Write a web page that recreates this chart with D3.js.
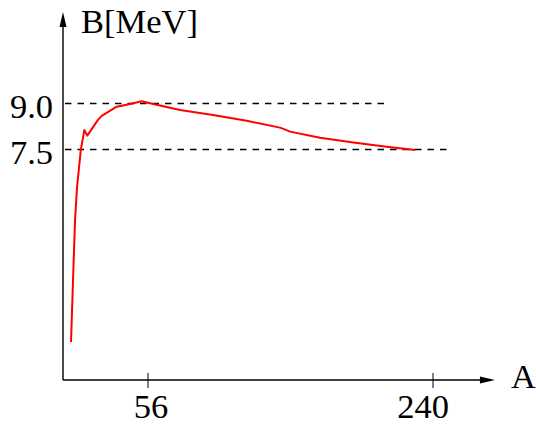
<!DOCTYPE html>
<html>
<head>
<meta charset="utf-8">
<script src="https://cdn.jsdelivr.net/npm/d3@7"></script>
<style>
  html, body { margin: 0; padding: 0; background: #fff; }
  svg { display: block; }
  text { font-family: "Liberation Serif", "Times New Roman", serif; font-size: 34.5px; fill: #000; }
</style>
</head>
<body>
<svg id="chart" width="536" height="426"></svg>
<script>
// Data (mass number A, binding energy per nucleon B in MeV)
const massNumber = [6.3, 7.6, 8.9, 10.2, 12.6, 14.9, 16.8, 23.7, 26.1, 35.8, 44.4, 51.9, 59.4, 76.7, 98, 119.7, 141.2, 143.4, 147.7, 167.1, 188.6, 210.1, 228.4];
const bindingEnergy = [1.235, 3.25, 5.20, 6.27, 7.47, 8.12, 7.94, 8.45, 8.58, 8.88, 8.97, 9.06, 8.97, 8.77, 8.61, 8.42, 8.20, 8.16, 8.07, 7.87, 7.72, 7.58, 7.47];
const xTicks = [56, 240];
const yTickValues = [9.0, 7.5];
const yTickLabels = ["9.0", "7.5"];
const refLineEnds = [211.5, 252];   // A at which the dashed reference lines stop
const xAxisEnd = 280;
const xLabel = "A";
const yLabel = "B[MeV]";

const svg = d3.select("#chart");
const originX = 63, originY = 380, yTop = 12;

const x = d3.scaleLinear().domain([56, 240]).range([148, 433]);
const y = d3.scaleLinear().domain([0, 9]).range([originY, 103]);

// Dashed reference lines
svg.selectAll("line.ref")
  .data(yTickValues)
  .join("line")
  .attr("class", "ref")
  .attr("x1", originX + 2)
  .attr("x2", (d, i) => x(refLineEnds[i]))
  .attr("y1", d => Math.round(y(d)) + 0.5)
  .attr("y2", d => Math.round(y(d)) + 0.5)
  .attr("stroke", "#000")
  .attr("stroke-width", 1.3)
  .attr("stroke-dasharray", "6.5,6");

// Y tick labels
svg.selectAll("text.ylab")
  .data(yTickValues)
  .join("text")
  .attr("class", "ylab")
  .attr("x", 53)
  .attr("y", d => y(d) + 15)
  .attr("text-anchor", "end")
  .text((d, i) => yTickLabels[i]);

// Axes
const xEnd = x(xAxisEnd);
svg.append("line")
  .attr("x1", originX).attr("x2", xEnd - 6)
  .attr("y1", originY).attr("y2", originY)
  .attr("stroke", "#000").attr("stroke-width", 1.4);
svg.append("path")
  .attr("d", `M${xEnd},${originY} L${xEnd - 15},${originY - 3.5} L${xEnd - 15},${originY + 3.5} Z`)
  .attr("fill", "#000");

svg.append("line")
  .attr("x1", originX).attr("x2", originX)
  .attr("y1", originY).attr("y2", yTop + 6)
  .attr("stroke", "#000").attr("stroke-width", 1.4);
svg.append("path")
  .attr("d", `M${originX},${yTop} L${originX - 3.5},${yTop + 15} L${originX + 3.5},${yTop + 15} Z`)
  .attr("fill", "#000");

// X ticks
svg.selectAll("line.xtick")
  .data(xTicks)
  .join("line")
  .attr("class", "xtick")
  .attr("x1", d => x(d)).attr("x2", d => x(d))
  .attr("y1", originY - 7).attr("y2", originY + 8)
  .attr("stroke", "#000").attr("stroke-width", 1);

const labelShift = [3, -10];
svg.selectAll("text.xlab")
  .data(xTicks)
  .join("text")
  .attr("class", "xlab")
  .attr("x", (d, i) => x(d) + labelShift[i])
  .attr("y", 418)
  .attr("text-anchor", "middle")
  .text(d => d);

// Axis titles
svg.append("text").attr("x", 511).attr("y", 388).text(xLabel);
svg.append("text").attr("x", 81).attr("y", 33).text(yLabel);

// Curve
const pts = massNumber.map((a, i) => [a, bindingEnergy[i]]);
const line = d3.line().x(d => x(d[0])).y(d => y(d[1]));
svg.append("path")
  .datum(pts)
  .attr("d", line)
  .attr("fill", "none")
  .attr("stroke", "#ff0000")
  .attr("stroke-width", 2)
  .attr("stroke-linejoin", "round");
</script>
</body>
</html>
